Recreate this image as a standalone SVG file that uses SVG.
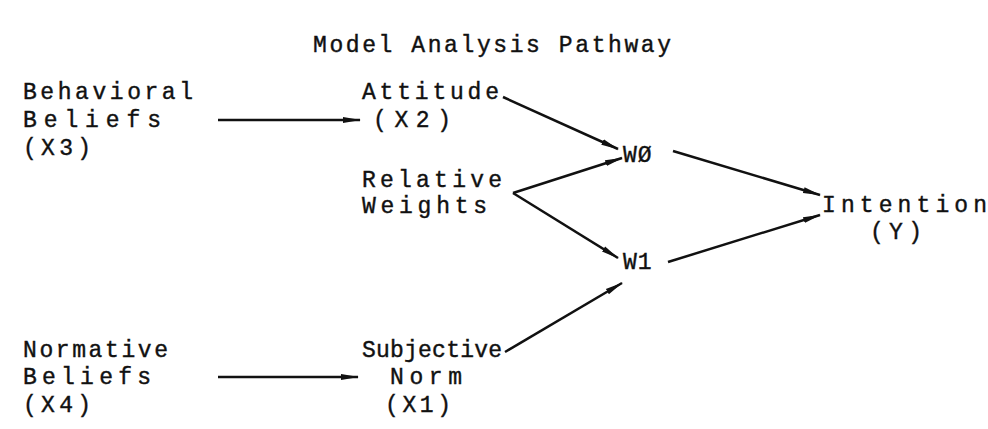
<svg xmlns="http://www.w3.org/2000/svg" width="988" height="429" viewBox="0 0 988 429">
<style>
text{font-family:"Liberation Mono","DejaVu Sans Mono",monospace;font-size:23px;fill:#111;stroke:#111;stroke-width:0.4}
.c{stroke:#111;stroke-width:2.5;fill:none;marker-end:url(#ah)}
</style>
<defs>
<marker id="ah" markerWidth="18" markerHeight="8" refX="17" refY="4" orient="auto" markerUnits="userSpaceOnUse">
<path d="M0,1 L18,4 L0,7 Z" fill="#111"/>
</marker>
</defs>
<rect width="988" height="429" fill="#fff"/>
<text x="313" y="52" textLength="358" lengthAdjust="spacing">Model Analysis Pathway</text>
<g id="behavioral"><text x="23" y="99" textLength="170" lengthAdjust="spacing">Behavioral</text><text x="23" y="127" textLength="138" lengthAdjust="spacing">Beliefs</text><text x="23" y="155" textLength="68" lengthAdjust="spacing">(X3)</text></g>
<g id="attitude"><text x="362" y="99" textLength="137" lengthAdjust="spacing">Attitude</text><text x="373" y="127" textLength="78" lengthAdjust="spacing">(X2)</text></g>
<g id="relative"><text x="362" y="187" textLength="140" lengthAdjust="spacing">Relative</text><text x="362" y="213" textLength="125" lengthAdjust="spacing">Weights</text></g>
<g id="w0"><text x="623" y="162" letter-spacing="1">WØ</text></g>
<g id="w1"><text x="623" y="269" letter-spacing="1">W1</text></g>
<g id="intention"><text x="822" y="212" textLength="165" lengthAdjust="spacing">Intention</text><text x="870" y="239" textLength="52" lengthAdjust="spacing">(Y)</text></g>
<g id="normative"><text x="23" y="357" textLength="145" lengthAdjust="spacing">Normative</text><text x="23" y="384" textLength="128" lengthAdjust="spacing">Beliefs</text><text x="23" y="412" textLength="68" lengthAdjust="spacing">(X4)</text></g>
<g id="subjective"><text x="362" y="357" textLength="140" lengthAdjust="spacing">Subjective</text><text x="390" y="384" textLength="72" lengthAdjust="spacing">Norm</text><text x="385" y="412" textLength="66" lengthAdjust="spacing">(X1)</text></g>
<g id="connectors">
<line class="c" x1="218" y1="120" x2="360" y2="120"/>
<line class="c" x1="218" y1="377" x2="358" y2="377"/>
<line class="c" x1="503" y1="97" x2="618" y2="149"/>
<line class="c" x1="513" y1="193" x2="622" y2="158"/>
<line class="c" x1="513" y1="193" x2="618" y2="258"/>
<line class="c" x1="505" y1="352" x2="622" y2="283"/>
<line class="c" x1="673" y1="151" x2="820" y2="195"/>
<line class="c" x1="668" y1="262" x2="820" y2="215"/>
</g>
</svg>
